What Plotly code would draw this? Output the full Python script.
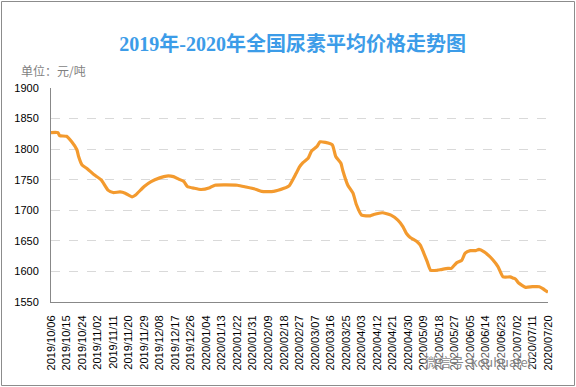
import plotly.graph_objects as go

# ---- data ----
dates = [
    "2019-10-06", "2019-10-10", "2019-10-11", "2019-10-15", "2019-10-18", "2019-10-21",
    "2019-10-22", "2019-10-24", "2019-10-27", "2019-10-31", "2019-11-04", "2019-11-08",
    "2019-11-11", "2019-11-15", "2019-11-18", "2019-11-22", "2019-11-24", "2019-11-29",
    "2019-12-03", "2019-12-08", "2019-12-12", "2019-12-16", "2019-12-19", "2019-12-22",
    "2019-12-24", "2019-12-28", "2020-01-01", "2020-01-06", "2020-01-09", "2020-01-22",
    "2020-01-27", "2020-02-02", "2020-02-05", "2020-02-12", "2020-02-18", "2020-02-21",
    "2020-02-25", "2020-02-27", "2020-02-29", "2020-03-03", "2020-03-05", "2020-03-08",
    "2020-03-10", "2020-03-13", "2020-03-17", "2020-03-19", "2020-03-22", "2020-03-23",
    "2020-03-26", "2020-03-29", "2020-03-31", "2020-04-03", "2020-04-08", "2020-04-10",
    "2020-04-15", "2020-04-20", "2020-04-24", "2020-04-27", "2020-04-29", "2020-05-01",
    "2020-05-05", "2020-05-07", "2020-05-09", "2020-05-11", "2020-05-13", "2020-05-17",
    "2020-05-19", "2020-05-23", "2020-05-25", "2020-05-28", "2020-05-31", "2020-06-02",
    "2020-06-05", "2020-06-08", "2020-06-10", "2020-06-13", "2020-06-16", "2020-06-18",
    "2020-06-21", "2020-06-24", "2020-06-28", "2020-06-30", "2020-07-01", "2020-07-03",
    "2020-07-07", "2020-07-11", "2020-07-15", "2020-07-17", "2020-07-20",
]
prices = [
    1827, 1827, 1822, 1821, 1812, 1799,
    1788, 1774, 1768, 1758, 1750, 1733,
    1729, 1730, 1728, 1722, 1725, 1739,
    1747, 1753, 1756, 1755, 1751, 1747,
    1739, 1736, 1734, 1737, 1741, 1741,
    1738, 1734, 1731, 1731, 1736, 1740,
    1760, 1771, 1778, 1785, 1797, 1804,
    1812, 1811, 1807, 1788, 1777, 1766,
    1741, 1728, 1709, 1692, 1691, 1693,
    1696, 1692, 1684, 1673, 1662, 1656,
    1649, 1643, 1630, 1616, 1602, 1602,
    1603, 1605, 1605, 1614, 1618, 1630,
    1634, 1634, 1636, 1632, 1625, 1619,
    1608, 1591, 1591, 1589, 1588, 1581,
    1574, 1575, 1575, 1572, 1566,
]
y_ticks = [1550, 1600, 1650, 1700, 1750, 1800, 1850, 1900]
title_text = "2019年-2020年全国尿素平均价格走势图"
unit_text = "单位：元/吨"
watermark_text = "微信号: kouhuafei"

# ---- layout geometry (pixels) ----
W, H = 576, 387
L, R, T, B = 51, 548, 88, 302


def px_x(p):
    return (p - L) / (R - L)


def px_y(p):
    return (B - p) / (B - T)


fig = go.Figure()
fig.add_trace(go.Scatter(
    x=dates, y=prices, mode="lines",
    line=dict(color="#f39a2e", width=3.2, shape="spline", smoothing=0.5),
    hoverinfo="x+y", showlegend=False,
))

fig.update_layout(
    width=W, height=H,
    margin=dict(l=L, r=W - R, t=T, b=H - B, autoexpand=False),
    paper_bgcolor="white", plot_bgcolor="white",
    font=dict(family="Liberation Sans, Noto Sans CJK SC, sans-serif", size=11, color="#000000"),
    title=dict(
        text="<b>" + title_text + "</b>",
        xref="container", x=0.508, xanchor="center",
        yref="container", y=1 - 44 / H, yanchor="middle",
        font=dict(family="Liberation Serif, Noto Sans CJK SC, serif", size=20, color="#3c9ce8"),
    ),
    xaxis=dict(
        type="date",
        range=[dates[0], dates[-1]],
        tick0=dates[0], dtick=9 * 86400000,
        tickformat="%Y/%m/%d", tickangle=-90,
        showgrid=False, zeroline=False,
        showline=True, linecolor="#888888", linewidth=1,
        ticks="", ticklen=0, ticklabelstandoff=8,
        tickfont=dict(size=11, color="#000000"),
        fixedrange=True,
    ),
    yaxis=dict(
        range=[1550, 1900],
        tickvals=y_ticks,
        showgrid=True, gridcolor="#d9d9d9", griddash="dash", gridwidth=1,
        zeroline=False,
        showline=True, linecolor="#888888", linewidth=1,
        ticks="", ticklabelstandoff=9,
        tickfont=dict(size=11, color="#000000"),
        fixedrange=True,
    ),
    annotations=[
        dict(text=unit_text, xref="paper", yref="paper",
             x=px_x(19), y=px_y(71), xanchor="left", yanchor="middle",
             showarrow=False, font=dict(size=12, color="#7f7f7f",
                                        family="Noto Sans CJK SC, sans-serif")),
        dict(text=watermark_text, xref="paper", yref="paper",
             x=px_x(423), y=px_y(361), xanchor="left", yanchor="middle",
             showarrow=False, bgcolor="rgba(255,255,255,0.35)",
             font=dict(size=13, color="rgba(120,120,120,0.9)",
                       family="Noto Sans CJK SC, sans-serif")),
    ],
    shapes=[
        dict(type="rect", xref="paper", yref="paper",
             x0=px_x(1.5), x1=px_x(574.5), y0=px_y(385.5), y1=px_y(1.5),
             line=dict(color="#8c8c8c", width=1), fillcolor="rgba(0,0,0,0)", layer="below"),
    ],
)

fig.write_html(
    "out.html",
    config={"displayModeBar": False},
    post_script="document.body.style.margin='0px';document.body.style.padding='0px';",
)
